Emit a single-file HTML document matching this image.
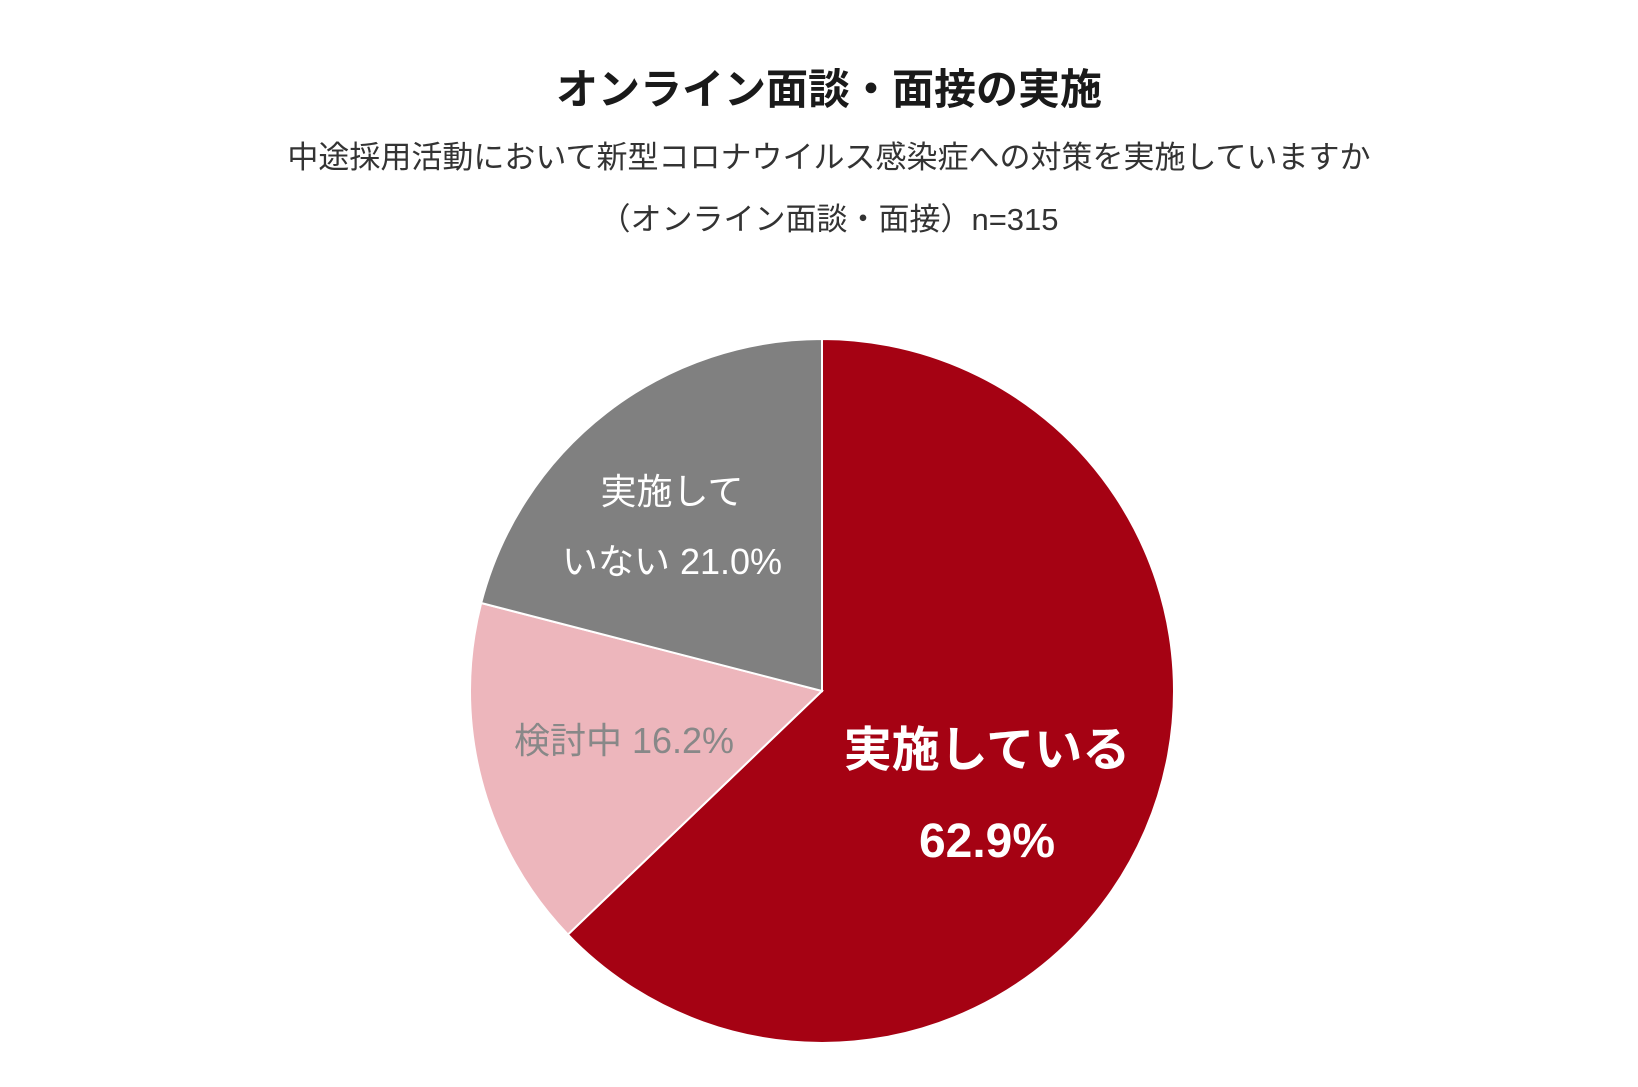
<!DOCTYPE html>
<html><head><meta charset="utf-8"><style>
html,body{margin:0;padding:0;background:#fff;}
svg{display:block;font-family:"Liberation Sans","Noto Sans CJK JP",sans-serif;}
</style></head><body>
<svg id="chart" width="1638" height="1087" viewBox="0 0 1638 1087">
<text x="829" y="104" text-anchor="middle" font-size="42" font-weight="bold" fill="#1a1a1a">オンライン面談・面接の実施</text>
<text x="829" y="168" text-anchor="middle" font-size="31" fill="#333">中途採用活動において新型コロナウイルス感染症への対策を実施していますか</text>
<text x="829" y="230" text-anchor="middle" font-size="31" fill="#333">（オンライン面談・面接）n=315</text>
<g id="slices"></g>
<g id="labels"></g>
</svg>
<script>
const categories = ["実施している", "検討中", "実施していない"];
const values = [62.9, 16.2, 21.0];
const colors = ["#a50213", "#edb6bc", "#808080"];
const cx = 822, cy = 691, r = 352;
const total = values.reduce((a,b)=>a+b,0);
const ns = "http://www.w3.org/2000/svg";
const g = document.getElementById("slices");
let a0 = 0;
function pt(a){ return [cx + r*Math.sin(a), cy - r*Math.cos(a)]; }
values.forEach((v,i)=>{
  const a1 = a0 + v/total*2*Math.PI;
  const p0 = pt(a0), p1 = pt(a1);
  const large = (a1-a0) > Math.PI ? 1 : 0;
  const path = document.createElementNS(ns,"path");
  path.setAttribute("d",`M${cx},${cy} L${p0[0]},${p0[1]} A${r},${r} 0 ${large} 1 ${p1[0]},${p1[1]} Z`);
  path.setAttribute("fill",colors[i]);
  path.setAttribute("stroke","#fff");
  path.setAttribute("stroke-width","2");
  
  
  g.appendChild(path);
  a0 = a1;
});
const L = document.getElementById("labels");
function lab(x,y,txt,size,fill,bold,name){
  const t = document.createElementNS(ns,"text");
  t.setAttribute("x",x); t.setAttribute("y",y);
  t.setAttribute("text-anchor","middle");
  t.setAttribute("font-size",size); t.setAttribute("fill",fill);
  if(bold) t.setAttribute("font-weight","bold");
  t.textContent = txt;
  
  
  L.appendChild(t);
}
lab(987,766,categories[0],48,"#fff",true,"label-implemented");
lab(987,857,values[0].toFixed(1)+"%",48,"#fff",true,"value-implemented");
lab(624,753,categories[1]+" "+values[1].toFixed(1)+"%",36,"#888",false,"label-considering");
lab(672,504,"実施して",36,"#fff",false,"label-not-implemented-1");
lab(672,574,"いない "+values[2].toFixed(1)+"%",36,"#fff",false,"label-not-implemented-2");
</script>
</body></html>
